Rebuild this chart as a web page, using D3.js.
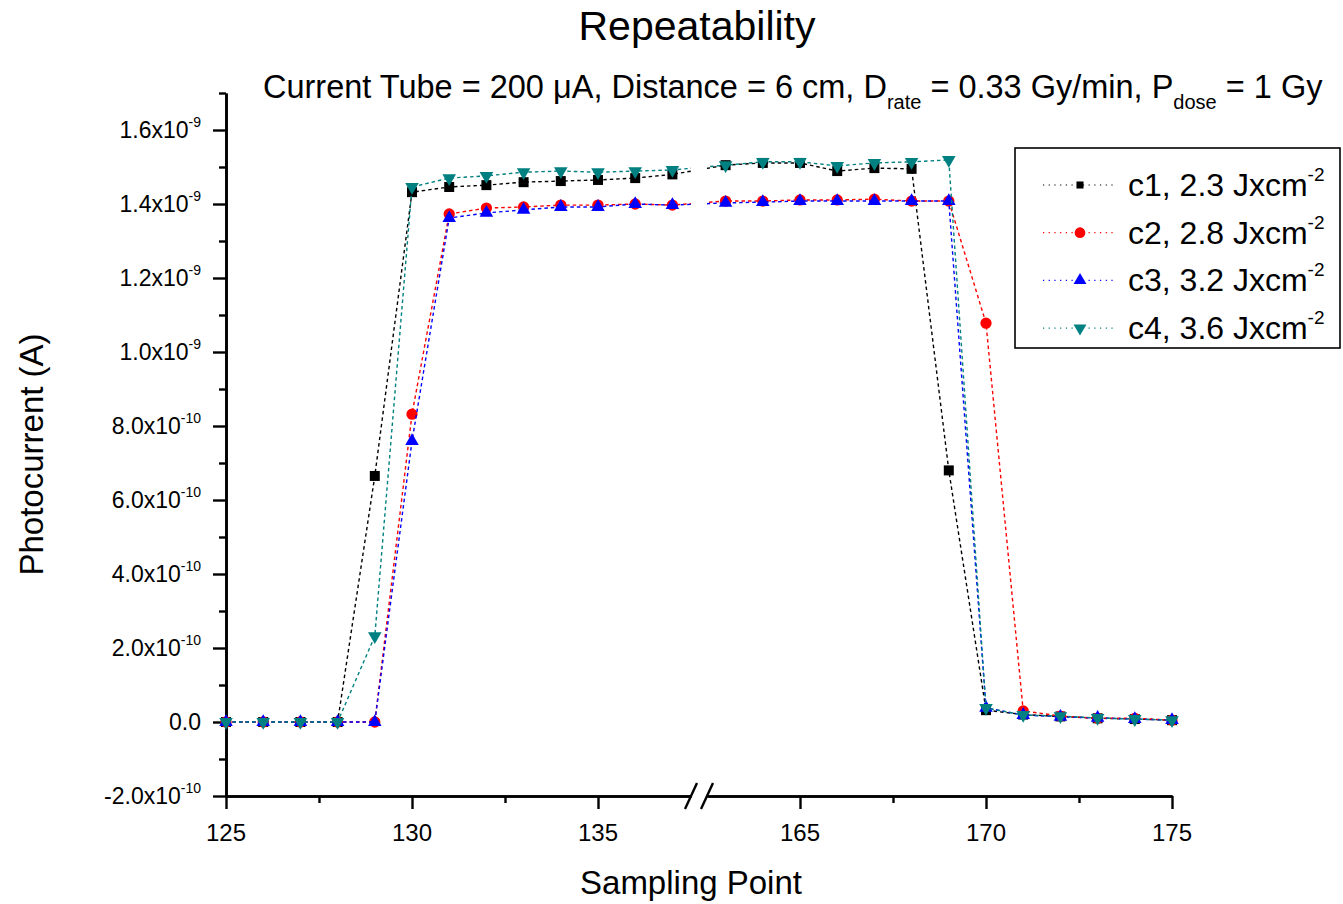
<!DOCTYPE html>
<html>
<head>
<meta charset="utf-8">
<script src="https://cdn.jsdelivr.net/npm/d3@7"></script>
<style>
  body { margin: 0; background: #fff; }
  svg { font-family: "Liberation Sans", Arial, sans-serif; }
</style>
</head>
<body>
<svg id="chart" width="1343" height="904"></svg>
<script>
// sampling points (x axis is broken between 137.5 and 162.5)
const samplePoints = [125, 126, 127, 128, 129, 130, 131, 132, 133, 134, 135, 136, 137,
  163, 164, 165, 166, 167, 168, 169, 170, 171, 172, 173, 174, 175];

// photocurrent, in units of 1e-10 A
const c1 = [0, 0, 0, 0, 6.65, 14.32, 14.46, 14.51, 14.59, 14.62, 14.65, 14.70, 14.80,
  15.05, 15.11, 15.11, 14.89, 14.97, 14.95, 6.80, 0.32, 0.20, 0.15, 0.10, 0.08, 0.05];
const c2 = [0, 0, 0, 0, 0, 8.32, 13.73, 13.89, 13.92, 13.97, 13.97, 14.00, 13.97,
  14.08, 14.08, 14.11, 14.11, 14.13, 14.08, 14.08, 10.78, 0.30, 0.16, 0.10, 0.10, 0.05];
const c3 = [0, 0, 0, 0, 0, 7.59, 13.62, 13.76, 13.84, 13.92, 13.92, 14.00, 13.97,
  14.03, 14.05, 14.08, 14.08, 14.08, 14.08, 14.08, 0.38, 0.19, 0.14, 0.11, 0.08, 0.05];
const c4 = [0, 0, 0, 0, 2.32, 14.46, 14.70, 14.76, 14.86, 14.89, 14.86, 14.89, 14.92,
  15.05, 15.14, 15.14, 15.03, 15.11, 15.14, 15.19, 0.38, 0.19, 0.16, 0.11, 0.08, 0.05];

const seriesNames = ["c1, 2.3 Jxcm", "c2, 2.8 Jxcm", "c3, 3.2 Jxcm", "c4, 3.6 Jxcm"];
const seriesColors = ["#000000", "#ff0000", "#0000ff", "#008080"];

const xMajorTicks = [125, 130, 135, 165, 170, 175];
const xMinorTicks = [127.5, 132.5, 167.5, 172.5];
const yMajorTicks = [-2, 0, 2, 4, 6, 8, 10, 12, 14, 16];
const yMinorTicks = [-1, 1, 3, 5, 7, 9, 11, 13, 15, 17];
const yTickMain = ["-2.0x10", "0.0", "2.0x10", "4.0x10", "6.0x10", "8.0x10",
  "1.0x10", "1.2x10", "1.4x10", "1.6x10"];
const yTickExp = ["-10", "", "-10", "-10", "-10", "-10", "-9", "-9", "-9", "-9"];

const plotLeft = 226, plotRight = 1172, plotTop = 93, plotBottom = 796, gap = 16;
const seg = (plotRight - plotLeft - gap) / 2;
const breakLo = 137.5, breakHi = 162.5;

const svg = d3.select("#chart");

const x = d3.scaleLinear()
  .domain([125, breakLo, breakHi, 175])
  .range([plotLeft, plotLeft + seg, plotRight - seg, plotRight]);
const xA = d3.scaleLinear().domain([125, breakLo]).range([plotLeft, plotLeft + seg]);
const xB = d3.scaleLinear().domain([breakHi, 175]).range([plotRight - seg, plotRight]);
const y = d3.scaleLinear().domain([-2, 17]).range([plotBottom, plotTop]);

// titles
svg.append("text")
  .attr("x", 697).attr("y", 40)
  .attr("text-anchor", "middle")
  .attr("font-size", 41)
  .text("Repeatability");

const sub = svg.append("text")
  .attr("x", 263).attr("y", 98)
  .attr("font-size", 32.5);
sub.append("tspan").text("Current Tube = 200 \u03bcA, Distance = 6 cm, D");
sub.append("tspan").attr("font-size", 20).attr("dy", 11).text("rate");
sub.append("tspan").attr("dy", -11).text(" = 0.33 Gy/min, P");
sub.append("tspan").attr("font-size", 20).attr("dy", 11).text("dose");
sub.append("tspan").attr("dy", -11).text(" = 1 Gy");

svg.append("text")
  .attr("transform", `translate(43, ${(plotTop + plotBottom) / 2 + 10}) rotate(-90)`)
  .attr("text-anchor", "middle")
  .attr("font-size", 33)
  .text("Photocurrent (A)");

svg.append("text")
  .attr("x", 691).attr("y", 894)
  .attr("text-anchor", "middle")
  .attr("font-size", 33)
  .text("Sampling Point");

// axes
const styleAxis = (g) => {
  g.selectAll("path.domain").attr("stroke", "#000").attr("stroke-width", 2.6);
  g.selectAll(".tick line").attr("stroke", "#000").attr("stroke-width", 2.4);
};

[xA, xB].forEach((sc) => {
  const inSeg = (v) => v >= sc.domain()[0] && v <= sc.domain()[1];
  svg.append("g")
    .attr("transform", `translate(0, ${plotBottom})`)
    .call(d3.axisBottom(sc).tickValues(xMajorTicks.filter(inSeg)).tickSize(13).tickSizeOuter(0).tickFormat(""))
    .call(styleAxis);
  svg.append("g")
    .attr("transform", `translate(0, ${plotBottom})`)
    .call(d3.axisBottom(sc).tickValues(xMinorTicks.filter(inSeg)).tickSize(7).tickSizeOuter(0).tickFormat(""))
    .call(styleAxis);
});

// break marks
[x(breakLo), x(breakHi)].forEach((bx) => {
  svg.append("line")
    .attr("x1", bx - 6).attr("y1", plotBottom + 13)
    .attr("x2", bx + 6).attr("y2", plotBottom - 13)
    .attr("stroke", "#000").attr("stroke-width", 2.4);
});

svg.selectAll(".xlab")
  .data(xMajorTicks)
  .enter().append("text")
  .attr("class", "xlab")
  .attr("x", (d) => x(d)).attr("y", 841)
  .attr("text-anchor", "middle")
  .attr("font-size", 24)
  .text((d) => d);

svg.append("g")
  .attr("transform", `translate(${plotLeft}, 0)`)
  .call(d3.axisLeft(y).tickValues(yMajorTicks).tickSize(13).tickSizeOuter(0).tickFormat(""))
  .call(styleAxis);
svg.append("g")
  .attr("transform", `translate(${plotLeft}, 0)`)
  .call(d3.axisLeft(y).tickValues(yMinorTicks).tickSize(7).tickSizeOuter(0).tickFormat(""))
  .call(styleAxis);

yMajorTicks.forEach((v, i) => {
  const t = svg.append("text")
    .attr("x", 201).attr("y", y(v) + 8)
    .attr("text-anchor", "end")
    .attr("font-size", 23);
  t.append("tspan").text(yTickMain[i]);
  if (yTickExp[i]) {
    t.append("tspan").attr("font-size", 14).attr("dy", -11).text(yTickExp[i]);
  }
});

// data
const series = [c1, c2, c3, c4].map((vals, i) => ({
  name: seriesNames[i],
  color: seriesColors[i],
  points: samplePoints.map((p, j) => [p, vals[j]])
}));

const defs = svg.append("defs");
const clip = defs.append("clipPath").attr("id", "brk");
clip.append("rect").attr("x", plotLeft).attr("y", 0).attr("width", seg).attr("height", plotBottom);
clip.append("rect").attr("x", plotRight - seg).attr("y", 0).attr("width", seg).attr("height", plotBottom);

const line = d3.line().x((d) => x(d[0])).y((d) => y(d[1]));

const markerPath = (i, scale) => {
  const sizes = [100, 100, 80, 80];
  const types = [d3.symbolSquare, d3.symbolCircle, d3.symbolTriangle, d3.symbolTriangle];
  return d3.symbol().type(types[i]).size(sizes[i] * scale)();
};

series.forEach((s, i) => {
  svg.append("path")
    .attr("d", line(s.points))
    .attr("fill", "none")
    .attr("stroke", s.color)
    .attr("stroke-width", 1.4)
    .attr("stroke-dasharray", "3.5,3")
    .attr("clip-path", "url(#brk)");
  svg.selectAll(".m" + i)
    .data(s.points)
    .enter().append("path")
    .attr("class", "m" + i)
    .attr("d", markerPath(i, 1))
    .attr("fill", s.color)
    .attr("transform", (d) => `translate(${x(d[0])}, ${y(d[1])})` + (i === 3 ? " rotate(180)" : ""));
});

// legend
const legend = svg.append("g");
legend.append("rect")
  .attr("x", 1015).attr("y", 148)
  .attr("width", 325).attr("height", 200)
  .attr("fill", "#fff")
  .attr("stroke", "#000").attr("stroke-width", 1.6);

series.forEach((s, i) => {
  const cy = 185 + i * 47.7;
  legend.append("line")
    .attr("x1", 1043).attr("x2", 1117)
    .attr("y1", cy).attr("y2", cy)
    .attr("stroke", s.color).attr("stroke-width", 1.2)
    .attr("stroke-dasharray", "1.2,4.5");
  legend.append("path")
    .attr("d", markerPath(i, i === 0 ? 0.5 : 0.9))
    .attr("fill", s.color)
    .attr("transform", `translate(1080, ${cy})` + (i === 3 ? " rotate(180)" : ""));
  const t = legend.append("text")
    .attr("x", 1128).attr("y", cy + 11)
    .attr("font-size", 32);
  t.append("tspan").text(s.name);
  t.append("tspan").attr("font-size", 19).attr("dy", -15).text("-2");
});
</script>
</body>
</html>
